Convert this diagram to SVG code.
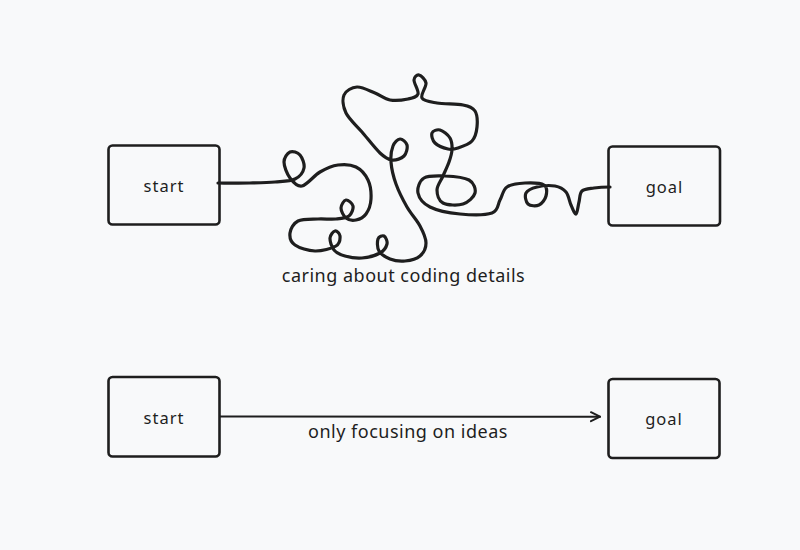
<svg xmlns="http://www.w3.org/2000/svg" width="800" height="550" viewBox="0 0 800 550">
<style>
.box{fill:none;stroke:#1e1e1e;stroke-width:2.6;}
.lbl{font-family:"Noto Sans","Liberation Sans",sans-serif;font-size:16.5px;letter-spacing:1px;fill:#1e1e1e;text-anchor:middle;dominant-baseline:central;}
.cap{font-family:"Noto Sans","Liberation Sans",sans-serif;font-size:18px;letter-spacing:0.5px;fill:#1e1e1e;text-anchor:middle;}
.wire{fill:none;stroke:#1e1e1e;stroke-width:3.2;stroke-linecap:round;stroke-linejoin:round;}
.arrow{fill:none;stroke:#1e1e1e;stroke-width:2;stroke-linecap:round;}
</style>
<defs>
<marker id="ah" viewBox="0 0 12 12" refX="11" refY="6" markerWidth="12" markerHeight="12" markerUnits="userSpaceOnUse" orient="auto">
<path d="M2,1.5 L11,6 L2,10.5" fill="none" stroke="#1e1e1e" stroke-width="2" stroke-linecap="round" stroke-linejoin="round"/>
</marker>
</defs>
<rect width="800" height="550" fill="#f8f9fa"/>
<g id="connectors">
<path class="wire" d="M218,183 C223,183 240.5,183.2 250,183 S267.5,182.7 275,182 S290.2,181.3 295,179 S303.2,172 304,168 S302.3,157.7 300,155 S292.7,150.8 290,152 S284,157.7 284,162 S287,174 290,178 S297,187 302,186 S314,175.5 320,172 S332,165.8 338,165 S351,164.5 356,167 S365.5,174.7 368,180 S371.3,193.3 371,199 S368.5,210.5 366,214 S359.3,219.3 356,220 S348.5,220 346,218 S341,211 341,208 S344,200.3 346,200 S352.5,203.3 353,206 S351.8,213.8 349,216 S341.2,218.5 336,219 S324.3,218.7 318,219 S302.7,218.7 298,221 S290.5,229 290,233 S290.8,242 295,245 S308.2,250.8 315,251 S331.8,248.5 336,246 S340.2,238.5 340,236 S336.7,230.7 335,231 S330.2,234.8 330,238 S331.5,247 334,250 S340.3,254.7 345,256 S356.2,258.5 362,258 S375.8,255.3 380,253 S386.3,246.8 387,244 S385.5,236.8 384,236 S378.8,236.5 378,239 S377,247.7 379,251 S385.7,257.3 390,259 S400,261.5 405,261 S416.5,259 420,256 S426,248 426,243 S423.2,232 420,226 S411,214 407,207 S398.7,191.5 396,184 S391.5,168.3 391,162 S391.5,149.8 393,146 S397.7,139.2 400,139 S406.3,142.2 407,145 S406.5,153.5 404,156 S396,160.5 392,160 S385,157.7 380,153 S367.7,138.7 362,132 S349,119.2 346,113 S342.2,99.3 344,95 S351.8,87.3 357,87 S369.5,90.8 375,93 S384.5,99 390,100 S403.3,100 408,99 S417,97.2 418,94 S413.8,83.2 414,80 S417,74.5 419,75 S425.5,79.2 426,83 S420.2,94.7 422,98 S430.2,101.8 437,103 S456.7,103.7 463,105 S472.7,107.3 475,111 S477.5,122 477,127 S475.2,137.5 472,141 S462,146.7 458,148 S451.8,149.8 448,149 S437.7,145.7 435,143 S431.2,135.2 432,133 S437,129.2 440,130 S448,134.7 450,138 S452.2,146 452,150 S450.5,157.7 449,162 S445,171.3 443,176 S437,185.5 437,190 S438.7,200.7 443,203 S457.7,205.7 463,204 S474,197 475,193 S474,182.8 469,180 S452.5,176.3 445,176 S428.5,175.2 424,178 S417,188.2 418,193 S423,203.5 430,207 S449.7,213 460,214 S485.3,215.3 492,213 S497.5,204.3 500,200 S502.8,189.8 507,187 S518.8,183.3 525,183 S540.5,182.8 544,185 S546.8,192.7 546,196 S542,203.7 539,205 S530.2,206 528,204 S524.5,195.8 526,193 S532.2,188.2 537,187 S550.2,185.2 555,186 S563.3,188.8 566,192 S569.3,201.3 571,205 S574.7,214.5 576,214 S578,205.8 579,202 S579.5,193.3 582,191 S589.3,188.7 594,188 S606,187 610,187"/>
<path class="arrow" d="M220,416.5 L600,416.7" marker-end="url(#ah)"/>
</g>
<g id="start1">
<rect class="box" x="108.5" y="145.5" width="111" height="79" rx="4"/>
<text class="lbl" x="164" y="185">start</text>
</g>
<g id="goal1">
<rect class="box" x="608.5" y="146.5" width="111.5" height="79" rx="4"/>
<text class="lbl" x="664.5" y="186">goal</text>
</g>
<g id="start2">
<rect class="box" x="108.5" y="377" width="111" height="79.5" rx="4"/>
<text class="lbl" x="164" y="417">start</text>
</g>
<g id="goal2">
<rect class="box" x="608.5" y="379" width="111" height="79" rx="4"/>
<text class="lbl" x="664" y="418">goal</text>
</g>
<g id="labels">
<text class="cap" x="403.5" y="282">caring about coding details</text>
<text class="cap" x="408" y="438">only focusing on ideas</text>
</g>
</svg>
